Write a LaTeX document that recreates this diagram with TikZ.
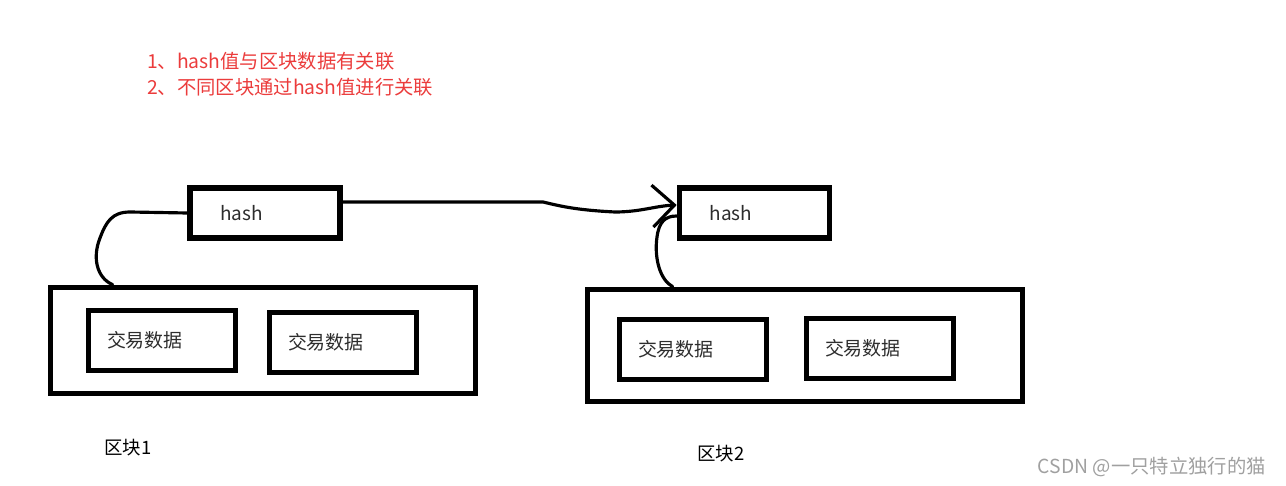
\documentclass[tikz,border=0pt]{standalone}
\usepackage{fontspec}
\setmainfont{Noto Sans CJK SC}
\usepackage{tikz}
\usetikzlibrary{
  arrows.meta,
  positioning
}
\definecolor{notered}{RGB}{235,60,60}
\definecolor{boxtext}{RGB}{45,45,45}
\definecolor{markgray}{RGB}{160,160,160}

\begin{document}
\begin{tikzpicture}[
    x=0.02cm, y=-0.02cm,
    hashbox/.style={
      rectangle, draw, line width=3.2pt,
      minimum height=1.0cm, text width=1.8cm,
      inner xsep=0.6cm, inner ysep=0pt, align=left,
      font=\fontsize{10.8}{13}\selectfont, text=boxtext
    },
    databox/.style={
      rectangle, draw, line width=3.2pt,
      minimum height=1.2cm, text width=2.2cm,
      inner xsep=0.37cm, inner ysep=0pt, align=left,
      font=\fontsize{10.8}{13}\selectfont, text=boxtext
    },
    block/.style={rectangle, draw, line width=3.2pt},
    link/.style={line width=1.8pt, line cap=round, line join=round},
    >={Straight Barb[length=4.4mm,width=8.4mm]}
  ]
  \useasboundingbox (0,0) rectangle (1286,486);

  %% Notes
  \node[anchor=west, align=left, text=notered,
        font=\fontsize{11}{14.8}\selectfont] (note) at (141,74)
        {1、hash值与区块数据有关联\\2、不同区块通过hash值进行关联};

  %% Block 1
  \node[block, minimum width=8.5cm, minimum height=2.12cm] (blk1) at (263,340.5) {};
  \node[databox] (data11) at (162,340.5) {交易数据};
  \node[databox] (data12) at (343,342.5) {交易数据};
  \node[hashbox] (hash1) at (265,213) {hash};
  \node[font=\fontsize{10.5}{13}\selectfont] (lbl1) at (128,448) {区块1};

  %% Block 2
  \node[block, minimum width=8.7cm, minimum height=2.24cm] (blk2) at (805,345.5) {};
  \node[databox] (data21) at (693,349.5) {交易数据};
  \node[databox] (data22) at (880,348.5) {交易数据};
  \node[hashbox] (hash2) at (754.5,213) {hash};
  \node[font=\fontsize{10.5}{13}\selectfont] (lbl2) at (721,454) {区块2};

  %% Links
  \draw[link] ([xshift=1.3cm]blk1.north west)
    .. controls (97,278) and (92,258) .. (100,238)
    .. controls (106,222) and (112,212) .. (130,212) -- (hash1.west);
  \draw[link, ->] ([yshift=0.22cm]hash1.east) -- (543,202)
    .. controls (560,206) and (575,210) .. (615,212)
    .. controls (640,212) and (655,206) .. ([yshift=0.16cm]hash2.west);
  \draw[link] ([xshift=1.76cm]blk2.north west)
    .. controls (660,280) and (654,258) .. (657,237)
    .. controls (659,222) and (665,216) .. ([yshift=-0.06cm]hash2.west);

  \node[anchor=east, text=markgray, font=\fontsize{11}{13}\selectfont] (mark) at (1272,467)
        {CSDN @一只特立独行的猫};

\end{tikzpicture}
\end{document}
